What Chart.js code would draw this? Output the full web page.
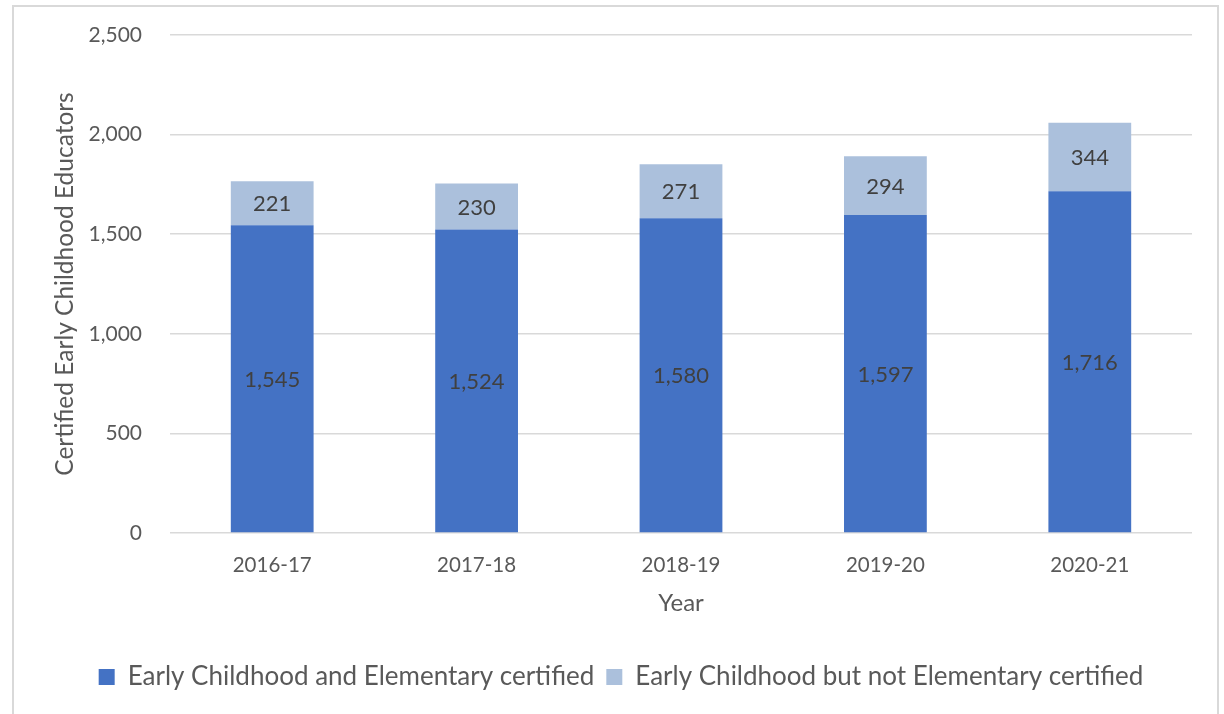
<!DOCTYPE html>
<html>
<head>
<meta charset="utf-8">
<script src="https://cdn.jsdelivr.net/npm/chart.js@4.4.0/dist/chart.umd.min.js"></script>
<style>
  html, body { margin: 0; padding: 0; background: #ffffff; }
  #wrap { position: relative; width: 1224px; height: 714px; overflow: hidden; }
  #frame { position: absolute; left: 12px; top: 5px; width: 1207px; height: 730px; border: 2px solid #d9d9d9; box-sizing: border-box; }
  canvas { position: absolute; left: 0; top: 0; }
</style>
</head>
<body>
<div id="wrap">
  <div id="frame"></div>
  <canvas id="c" width="1224" height="714"></canvas>
</div>
<script>
const categories = ["2016-17", "2017-18", "2018-19", "2019-20", "2020-21"];
const seriesNames = ["Early Childhood and Elementary certified", "Early Childhood but not Elementary certified"];
const ecAndElementary = [1545, 1524, 1580, 1597, 1716];
const ecNotElementary = [221, 230, 271, 294, 344];
const yAxisTitle = "Certified Early Childhood Educators";
const xAxisTitle = "Year";

const FONT = "Lato, 'Open Sans', sans-serif";
const TEXT = "#595959";

const valueLabels = {
  id: 'valueLabels',
  afterDatasetsDraw(chart) {
    const ctx = chart.ctx;
    ctx.save();
    ctx.font = "22px " + FONT;
    ctx.fillStyle = "#404040";
    ctx.textAlign = "center";
    ctx.textBaseline = "middle";
    chart.data.datasets.forEach((ds, di) => {
      const meta = chart.getDatasetMeta(di);
      meta.data.forEach((el, i) => {
        const p = el.getProps(['x', 'y', 'base'], true);
        ctx.fillText(ds.data[i].toLocaleString('en-US'), p.x, (p.y + p.base) / 2 + 1);
      });
    });
    ctx.restore();
  }
};

new Chart(document.getElementById('c'), {
  type: 'bar',
  data: {
    labels: categories,
    datasets: [
      { label: seriesNames[0], data: ecAndElementary, backgroundColor: "#4472C4", barPercentage: 0.405, categoryPercentage: 1 },
      { label: seriesNames[1], data: ecNotElementary, backgroundColor: "#ABC0DC", barPercentage: 0.405, categoryPercentage: 1 }
    ]
  },
  options: {
    responsive: false,
    animation: false,
    devicePixelRatio: 1,
    layout: { padding: { left: 50, right: 32, top: 35, bottom: 14 } },
    plugins: {
      tooltip: { enabled: false },
      legend: {
        position: 'bottom',
        labels: {
          boxWidth: 16, boxHeight: 16, padding: 12,
          color: TEXT,
          font: { family: FONT, size: 26 }
        }
      }
    },
    scales: {
      x: {
        stacked: true,
        grid: { display: false, drawTicks: false },
        border: { display: false },
        ticks: { color: TEXT, font: { family: FONT, size: 20.5 }, padding: 20 },
        title: { display: true, text: xAxisTitle, color: TEXT, font: { family: FONT, size: 24 }, padding: { top: 0, bottom: 34 } },
        afterFit(scale) { scale.height = 119; }
      },
      y: {
        stacked: true,
        min: 0, max: 2500,
        grid: { color: "#d9d9d9", lineWidth: 1.5, drawTicks: false },
        border: { display: false },
        ticks: { stepSize: 500, color: TEXT, font: { family: FONT, size: 21 }, padding: 28 },
        title: { display: true, text: yAxisTitle, color: TEXT, font: { family: FONT, size: 24.5 }, padding: { top: 0, bottom: 0 } },
        afterFit(scale) { scale.width = 120; scale.paddingTop = 0; scale.paddingBottom = 0; }
      }
    }
  },
  plugins: [valueLabels]
});
</script>
</body>
</html>
